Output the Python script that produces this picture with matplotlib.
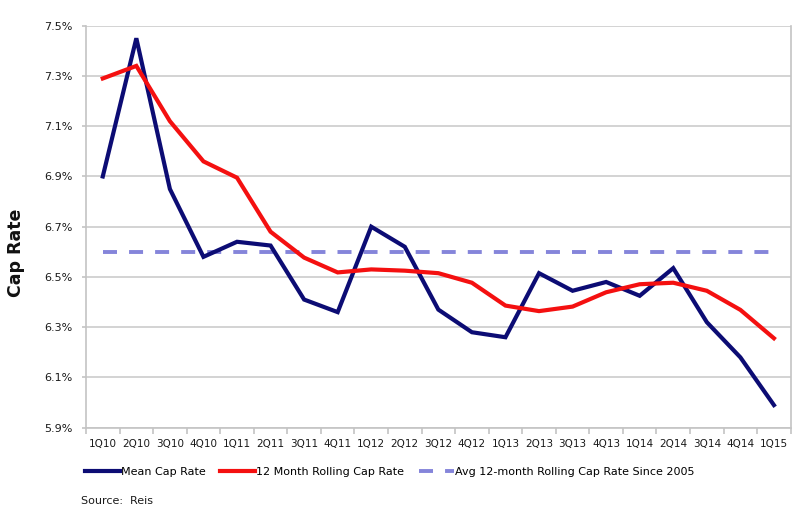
import matplotlib.pyplot as plt
from matplotlib.ticker import FixedLocator, FuncFormatter
import numpy as np

# ----------------------------
# Data
# ----------------------------
quarters = ['1Q10', '2Q10', '3Q10', '4Q10', '1Q11', '2Q11', '3Q11', '4Q11',
            '1Q12', '2Q12', '3Q12', '4Q12', '1Q13', '2Q13', '3Q13', '4Q13',
            '1Q14', '2Q14', '3Q14', '4Q14', '1Q15']

mean_cap = [6.90, 7.45, 6.85, 6.58, 6.64, 6.625, 6.41, 6.36,
            6.70, 6.62, 6.37, 6.28, 6.26, 6.515, 6.445, 6.48,
            6.425, 6.535, 6.32, 6.18, 5.99]

rolling_cap = [7.29, 7.34, 7.12, 6.96, 6.895, 6.68, 6.577, 6.518,
               6.53, 6.525, 6.515, 6.477, 6.386, 6.364, 6.382, 6.439,
               6.471, 6.477, 6.445, 6.369, 6.256]

avg_rolling = 6.60  # avg 12-month rolling cap rate since 2005

x = np.arange(len(quarters))

# ----------------------------
# Figure
# ----------------------------
plt.rcParams['font.family'] = ['DejaVu Sans']

fig = plt.figure(figsize=(8.0, 5.29), dpi=100)
ax = fig.add_axes([86 / 800, 1 - 427.7 / 529, (790.7 - 86) / 800, (427.7 - 25.7) / 529])

navy = '#0c0c74'
red = '#f41010'
lav = '#8585da'

l_mean, = ax.plot(x, mean_cap, color=navy, lw=3.0, label='Mean Cap Rate',
                  solid_joinstyle='miter', zorder=3)
l_roll, = ax.plot(x, rolling_cap, color=red, lw=3.0, label='12 Month Rolling Cap Rate',
                  solid_joinstyle='miter', zorder=4)
l_avg, = ax.plot([x[0], x[-1]], [avg_rolling, avg_rolling], color=lav, lw=2.8,
                 linestyle=(0, (3.6, 3.1)), label='Avg 12-month Rolling Cap Rate Since 2005',
                 zorder=2)

# axes
ax.set_xlim(-0.5, len(quarters) - 0.5)
ax.set_ylim(5.9, 7.5)
ax.set_yticks(np.arange(5.9, 7.51, 0.2))
ax.yaxis.set_major_formatter(FuncFormatter(lambda v, p: '{:.1f}%'.format(v)))
ax.grid(axis='y', color='#cccccc', lw=1.2)
ax.set_axisbelow(True)

ax.set_xticks(x)
ax.set_xticklabels(quarters)
ax.xaxis.set_minor_locator(FixedLocator(np.arange(-0.5, len(quarters), 1.0)))
ax.tick_params(axis='x', which='major', length=0, pad=8, labelsize=7.5, labelcolor='#1a1a1a')
ax.tick_params(axis='x', which='minor', length=4, width=1.2, color='#c4c4c4')
ax.tick_params(axis='y', length=3, width=1.2, color='#c4c4c4', pad=6.5,
               labelsize=8, labelcolor='#1a1a1a')

for s in ['left', 'bottom', 'right']:
    ax.spines[s].set_color('#c4c4c4')
    ax.spines[s].set_linewidth(1.2)
ax.spines['top'].set_visible(False)

fig.text(16 / 800, 1 - 253 / 529, 'Cap Rate', rotation=90, fontsize=12.5,
         fontweight='bold', ha='center', va='center', color='#111111')

# legend
fig.legend([l_mean, l_roll, l_avg], [h.get_label() for h in [l_mean, l_roll, l_avg]],
           loc='center left', bbox_to_anchor=(85 / 800, 1 - 472 / 529), ncol=3,
           frameon=False, fontsize=8, handlelength=3.15, handletextpad=0.1,
           columnspacing=1.3, borderpad=0, borderaxespad=0)

fig.text(81 / 800, 1 - 500.5 / 529, 'Source:  Reis', fontsize=8, ha='left',
         va='center', color='#1a1a1a')

fig.savefig('out.png', dpi=100)
